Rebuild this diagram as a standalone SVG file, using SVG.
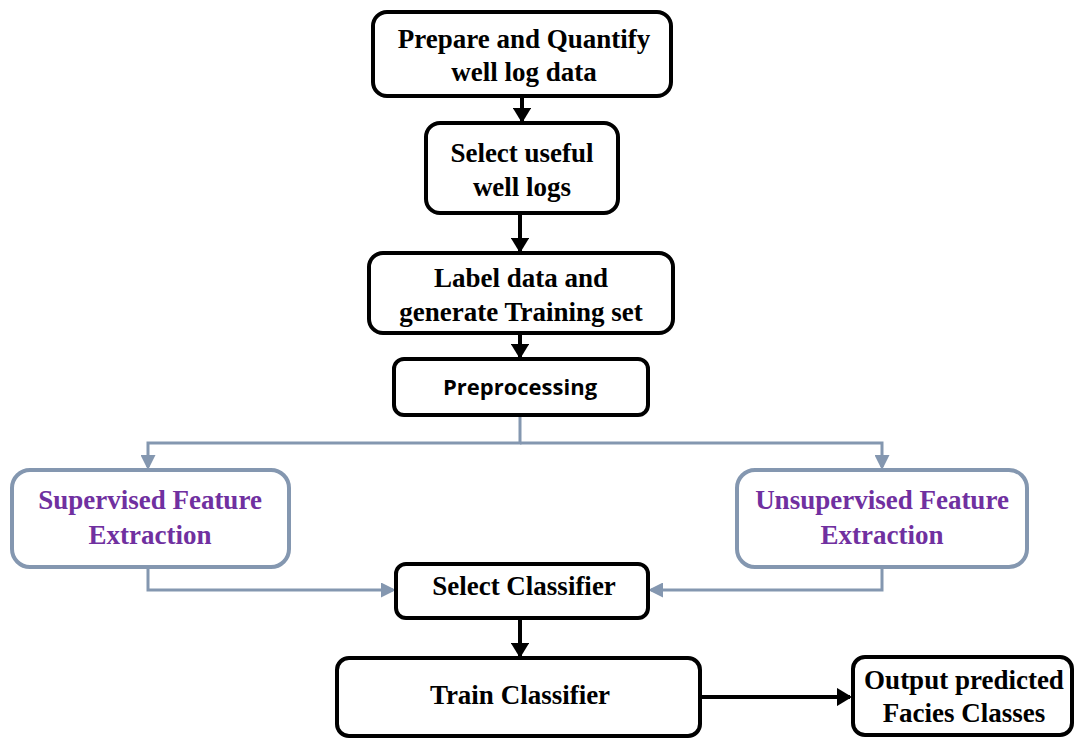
<svg xmlns="http://www.w3.org/2000/svg" width="1077" height="738" viewBox="0 0 1077 738">
<style>
.bk{fill:#fff;stroke:#000;stroke-width:4}
.gy{fill:#fff;stroke:#8497B0;stroke-width:4}
.t{font-family:"Liberation Serif","Times New Roman",serif;font-weight:bold;font-size:27px;fill:#000;text-anchor:middle}
.p{fill:#7030A0}
.s{font-family:"Open Sans","Liberation Sans",sans-serif;font-weight:bold;font-size:22px;fill:#000;text-anchor:middle}
.cb{stroke:#000;stroke-width:4;fill:none}
.cg{stroke:#8497B0;stroke-width:3;fill:none}
</style>
<defs>
<marker id="ab" markerWidth="3.8" markerHeight="4.6" refX="3.3" refY="2.3" orient="auto" markerUnits="strokeWidth"><path d="M0,0 L3.8,2.3 L0,4.6 Z" fill="#000"/></marker>
<marker id="ag" markerWidth="5" markerHeight="5" refX="4" refY="2.5" orient="auto" markerUnits="strokeWidth"><path d="M0,0 L5,2.5 L0,5 Z" fill="#8497B0"/></marker>
</defs>
<g id="connectors">
<line class="cb" x1="522" y1="97" x2="522" y2="121" marker-end="url(#ab)"/>
<line class="cb" x1="520" y1="213" x2="520" y2="251" marker-end="url(#ab)"/>
<line class="cb" x1="520" y1="334" x2="520" y2="357" marker-end="url(#ab)"/>
<polyline class="cg" points="520,416 520,443 148,443 148,467" marker-end="url(#ag)"/>
<polyline class="cg" points="520,443 882,443 882,467" marker-end="url(#ag)"/>
<polyline class="cg" points="148,569 148,590 393,590" marker-end="url(#ag)"/>
<polyline class="cg" points="882,569 882,590 651,590" marker-end="url(#ag)"/>
<line class="cb" x1="520" y1="619" x2="520" y2="656" marker-end="url(#ab)"/>
<line class="cb" x1="701" y1="697" x2="850" y2="697" marker-end="url(#ab)"/>
</g>
<g id="n1"><rect class="bk" x="373" y="12" width="298" height="84" rx="14"/><text class="t" x="524" y="48">Prepare and Quantify</text><text class="t" x="524" y="81">well log data</text></g>
<g id="n2"><rect class="bk" x="426" y="123" width="192" height="90" rx="14"/><text class="t" x="522" y="162">Select useful</text><text class="t" x="522" y="196">well logs</text></g>
<g id="n3"><rect class="bk" x="369" y="253" width="304" height="80" rx="14"/><text class="t" x="521" y="287">Label data and</text><text class="t" x="521" y="321">generate Training set</text></g>
<g id="n4"><rect class="bk" x="394" y="359" width="254" height="56" rx="10"/><text class="s" x="520" y="395">Preprocessing</text></g>
<g id="n5"><rect class="gy" x="12" y="470" width="277" height="97" rx="18"/><text class="t p" x="150" y="509">Supervised Feature</text><text class="t p" x="150" y="544">Extraction</text></g>
<g id="n6"><rect class="gy" x="737" y="470" width="290" height="97" rx="18"/><text class="t p" x="882" y="509">Unsupervised Feature</text><text class="t p" x="882" y="544">Extraction</text></g>
<g id="n7"><rect class="bk" x="396" y="564" width="252" height="54" rx="10"/><text class="t" x="524" y="595">Select Classifier</text></g>
<g id="n8"><rect class="bk" x="337" y="658" width="363" height="78" rx="12"/><text class="t" x="520" y="704">Train Classifier</text></g>
<g id="n9"><rect class="bk" x="853" y="657" width="219" height="78" rx="12"/><text class="t" x="964" y="689">Output predicted</text><text class="t" x="964" y="722">Facies Classes</text></g>
</svg>
